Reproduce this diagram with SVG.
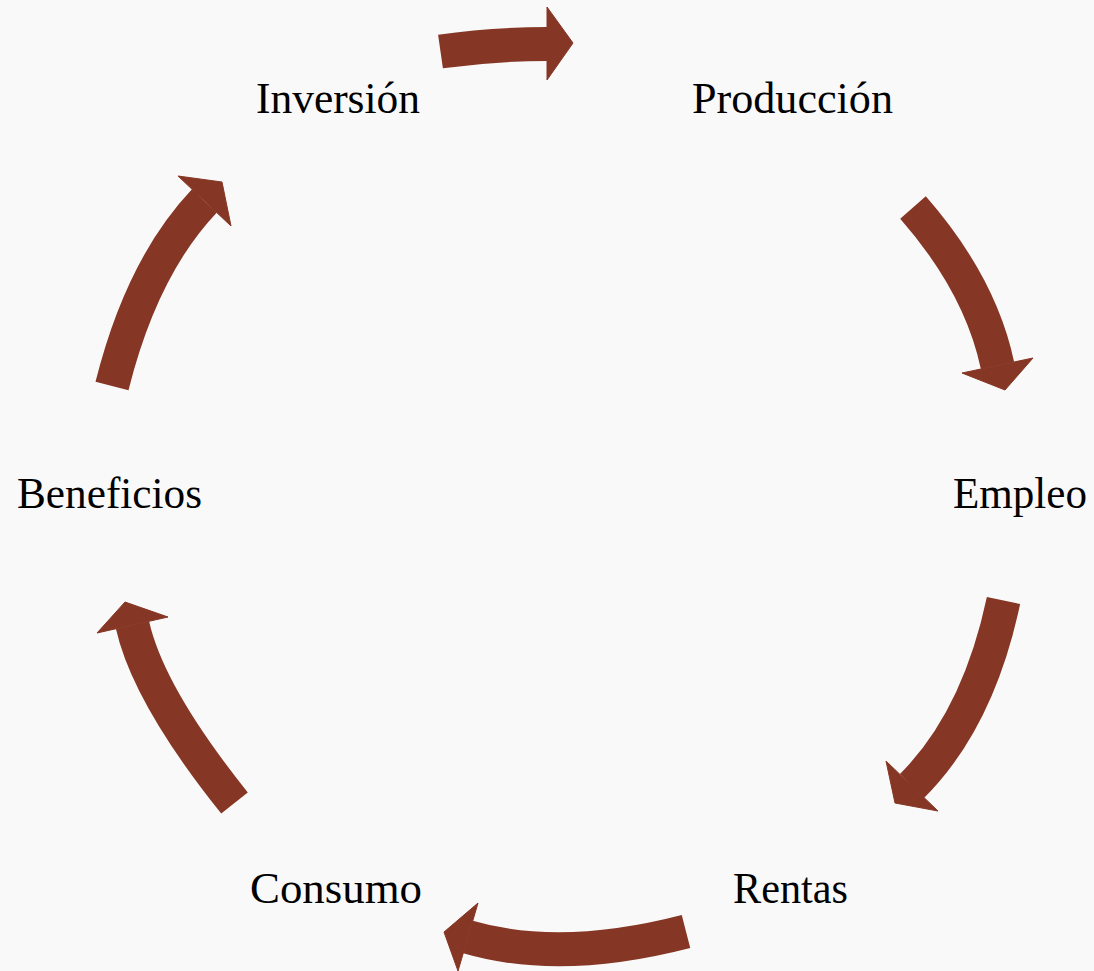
<svg xmlns="http://www.w3.org/2000/svg" width="1094" height="971" viewBox="0 0 1094 971">
<style>
.bg{fill:#f9f9f9}
.body{fill:none;stroke:#863624;stroke-width:34;stroke-linecap:butt}
.head{fill:#863624;stroke:#863624;stroke-width:1;stroke-linejoin:miter}
.lbl{font-family:"Liberation Serif","Times New Roman",serif;font-size:44px;fill:#000}
</style>
<rect class="bg" x="0" y="0" width="1094" height="971"/>
<g id="connectors">
  <g id="arrow-inversion-produccion">
    <path class="body" d="M440.5,51.5 Q493,44 547.5,44"/>
    <polygon class="head" points="547,7 573,43 547,80"/>
  </g>
  <g id="arrow-produccion-empleo">
    <path class="body" d="M913,207.5 Q980.4,284.5 997.5,365.5"/>
    <polygon class="head" points="962,373 1005,390 1033,358"/>
  </g>
  <g id="arrow-empleo-rentas">
    <path class="body" d="M1003.5,600.5 Q978.2,719.8 912,786"/>
    <polygon class="head" points="938,811 895,803 886,761"/>
  </g>
  <g id="arrow-rentas-consumo">
    <path class="body" d="M686,931.5 Q560,964 468,937"/>
    <polygon class="head" points="458,971 444,932 478,903"/>
  </g>
  <g id="arrow-consumo-beneficios">
    <path class="body" d="M234.5,803 Q148.3,695.3 132.5,625"/>
    <polygon class="head" points="168,617 125,602 97,633"/>
  </g>
  <g id="arrow-beneficios-inversion">
    <path class="body" d="M112,386 Q141.8,267 204.3,201"/>
    <polygon class="head" points="178,176 222,182 231,226"/>
  </g>
</g>
<g id="node-inversion"><text class="lbl" x="256" y="113" textLength="164" lengthAdjust="spacingAndGlyphs">Inversión</text></g>
<g id="node-produccion"><text class="lbl" x="692" y="113" textLength="201" lengthAdjust="spacingAndGlyphs">Producción</text></g>
<g id="node-empleo"><text class="lbl" x="953" y="508" textLength="134" lengthAdjust="spacingAndGlyphs">Empleo</text></g>
<g id="node-rentas"><text class="lbl" x="733" y="903" textLength="115" lengthAdjust="spacingAndGlyphs">Rentas</text></g>
<g id="node-consumo"><text class="lbl" x="250" y="903" textLength="172" lengthAdjust="spacingAndGlyphs">Consumo</text></g>
<g id="node-beneficios"><text class="lbl" x="17" y="508" textLength="185" lengthAdjust="spacingAndGlyphs">Beneficios</text></g>
</svg>
